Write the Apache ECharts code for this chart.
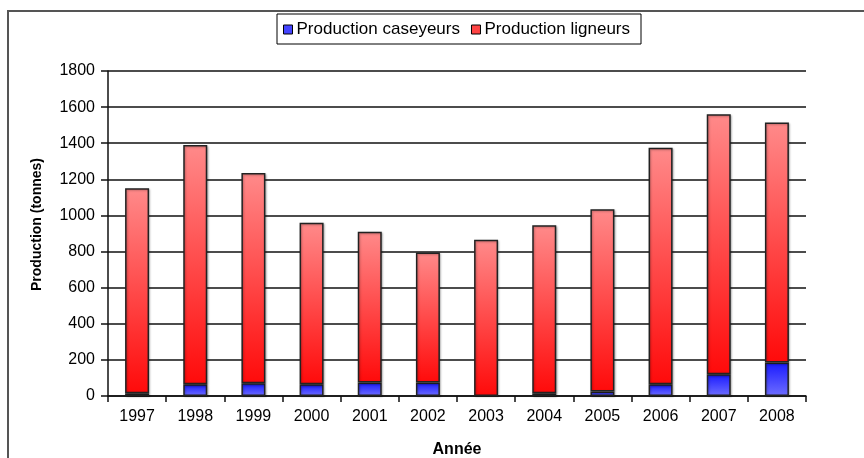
<!DOCTYPE html>
<html>
<head>
<meta charset="utf-8">
<script src="https://cdn.jsdelivr.net/npm/echarts@6/dist/echarts.min.js"></script>
<style>
  html, body { margin: 0; padding: 0; background: #fff; }
  #chart { width: 864px; height: 458px; }
</style>
</head>
<body>
<div id="chart"></div>
<script>
// Annual production (tonnes) by fishing fleet
const years = ['1997', '1998', '1999', '2000', '2001', '2002', '2003', '2004', '2005', '2006', '2007', '2008'];
const caseyeurs = [15, 65, 70, 65, 75, 75, 0, 15, 25, 65, 120, 185];
const ligneurs = [1135, 1325, 1165, 895, 835, 720, 865, 930, 1010, 1310, 1440, 1330];
const yTicks = { min: 0, max: 1800, interval: 200 };

const font = 'Liberation Sans, Arial, sans-serif';

const chart = echarts.init(document.getElementById('chart'));

const barBase = {
  type: 'bar',
  stack: 'total',
  barWidth: 24,
  emphasis: { disabled: true }
};

const shadow = {
  borderColor: '#222',
  borderWidth: 1.5,
  shadowColor: 'rgba(0,0,0,0.25)',
  shadowBlur: 2,
  shadowOffsetX: 1,
  shadowOffsetY: 1
};

chart.setOption({
  animation: false,
  backgroundColor: '#fff',
  textStyle: { fontFamily: font, color: '#000' },
  graphic: [{
    type: 'polyline',
    shape: { points: [[8, 458], [8, 11], [864, 11]] },
    style: { stroke: '#555', lineWidth: 2, fill: null },
    silent: true
  }],
  legend: {
    left: 277,
    top: 14,
    padding: [7, 11, 6, 6],
    itemGap: 11,
    itemWidth: 9,
    itemHeight: 9,
    borderColor: '#000',
    borderWidth: 1,
    icon: 'rect',
    textStyle: { fontFamily: font, fontSize: 17, color: '#000', padding: [0, 0, 0, -1] },
    data: [
      { name: 'Production caseyeurs', itemStyle: { color: '#4444ff', borderColor: '#000', borderWidth: 1 } },
      { name: 'Production ligneurs', itemStyle: { color: '#ff4444', borderColor: '#000', borderWidth: 1 } }
    ]
  },
  grid: { left: 108, right: 58, top: 71, bottom: 62, outerBoundsMode: 'none' },
  xAxis: {
    type: 'category',
    data: years,
    name: 'Année',
    nameLocation: 'middle',
    nameGap: 46,
    nameTextStyle: { fontFamily: font, fontSize: 16, fontWeight: 'bold', color: '#000' },
    axisLine: { lineStyle: { color: '#111', width: 1.5 } },
    axisTick: { show: true, length: 6, lineStyle: { color: '#111', width: 1.5 } },
    axisLabel: { fontFamily: font, fontSize: 16, color: '#000', margin: 13 }
  },
  yAxis: {
    type: 'value',
    min: yTicks.min,
    max: yTicks.max,
    interval: yTicks.interval,
    name: 'Production (tonnes)',
    nameLocation: 'middle',
    nameGap: 64,
    nameTextStyle: { fontFamily: font, fontSize: 14, fontWeight: 'bold', color: '#000', padding: [0, 0, 0, 18] },
    axisLine: { show: true, lineStyle: { color: '#111', width: 1.5 } },
    axisTick: { show: true, length: 7, lineStyle: { color: '#111', width: 1.5 } },
    axisLabel: { fontFamily: font, fontSize: 16, color: '#000', margin: 13, formatter: v => String(v) },
    splitLine: { lineStyle: { color: '#111', width: 1.5 } }
  },
  series: [
    Object.assign({}, barBase, {
      name: 'Production caseyeurs',
      data: caseyeurs.map(v => (v === 0 ? '-' : v)),
      itemStyle: Object.assign({
        color: new echarts.graphic.LinearGradient(0, 0, 0, 1, [
          { offset: 0, color: '#1a1aff' },
          { offset: 1, color: '#6e6eff' }
        ])
      }, shadow)
    }),
    Object.assign({}, barBase, {
      name: 'Production ligneurs',
      data: ligneurs,
      itemStyle: Object.assign({
        color: new echarts.graphic.LinearGradient(0, 0, 0, 1, [
          { offset: 0, color: '#ff8a8a' },
          { offset: 1, color: '#ff0a0a' }
        ])
      }, shadow)
    })
  ]
});
</script>
</body>
</html>
